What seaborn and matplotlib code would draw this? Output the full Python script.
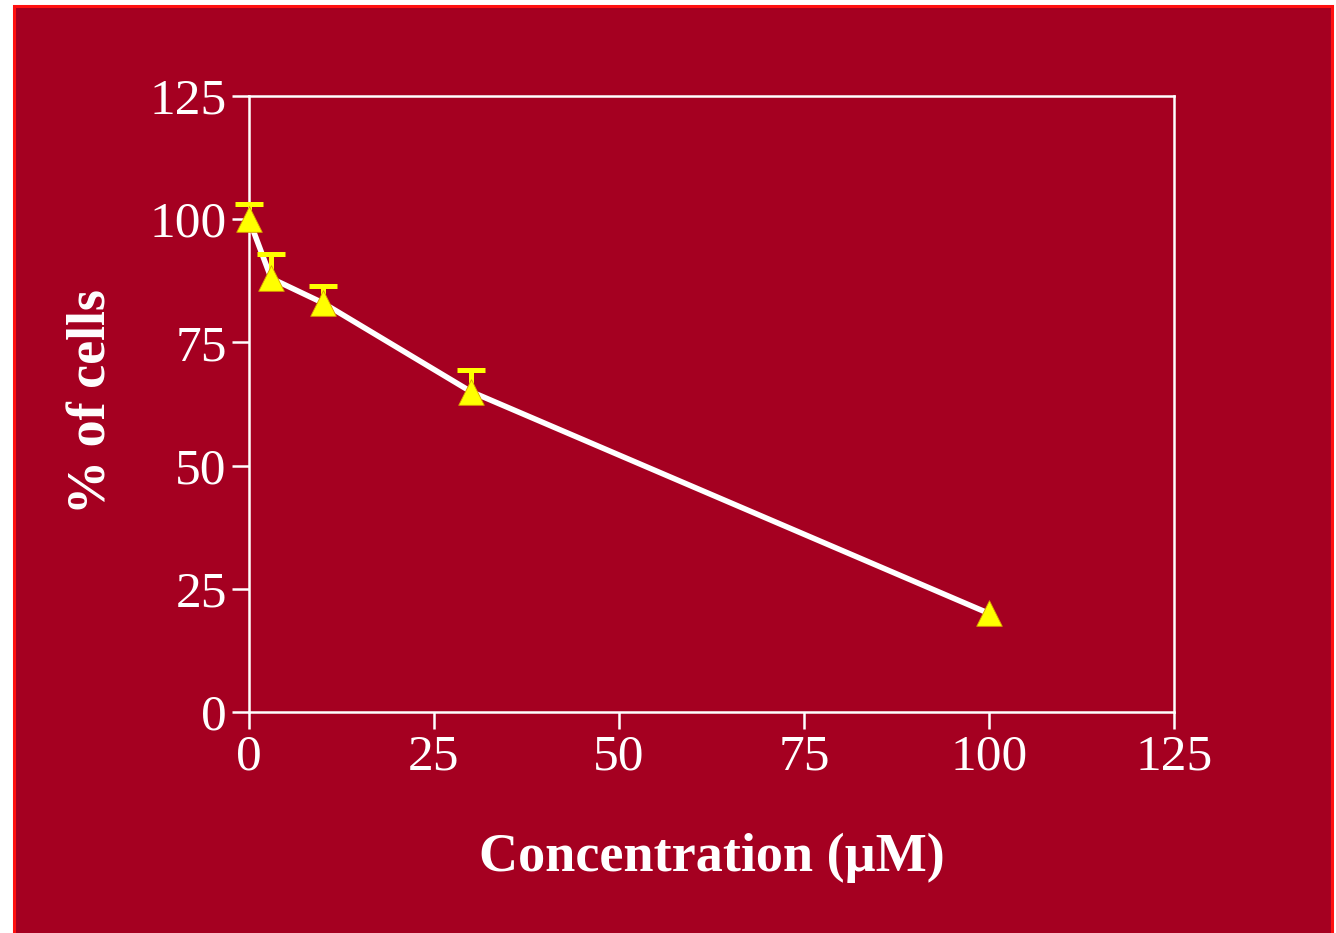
import matplotlib
matplotlib.use('Agg')
import matplotlib.pyplot as plt
import matplotlib.patches as patches
import seaborn as sns
import pandas as pd

# data
concentracao = [0, 3, 10, 30, 100]
celulas = [100, 88, 83, 65, 20]
erro_sup = [3, 5, 3.5, 4.5, 0]

df = pd.DataFrame({'conc': concentracao, 'cells': celulas, 'err': erro_sup})
df['topo'] = df['cells'] + df['err']
com_erro = df[df['err'] > 0]

sns.set_style('ticks')
plt.rcParams['font.family'] = ['Liberation Serif', 'DejaVu Serif']

fundo = '#A50021'
amarelo = '#FFFF00'
fig = plt.figure(figsize=(13.36, 9.33), dpi=100, facecolor='white')
# red framed background panel
fig.patches.append(patches.Rectangle((14 / 1336, -0.01), 1318 / 1336, 927 / 933 + 0.01,
                                     transform=fig.transFigure, facecolor=fundo,
                                     edgecolor='#FF1010', linewidth=2.2, zorder=-5))

ax = fig.add_axes([249 / 1336, 1 - 712 / 933, 925 / 1336, 616 / 933])
ax.set_facecolor(fundo)

sns.lineplot(data=df, x='conc', y='cells', color='white', linewidth=4, ax=ax, zorder=2)
# upper-only error bars: stem + single cap
ax.vlines(com_erro['conc'], com_erro['cells'], com_erro['topo'], color=amarelo,
          linewidth=3.6, zorder=3)
ax.plot(com_erro['conc'], com_erro['topo'], ls='none', marker='_', ms=20, mew=3.6,
        color=amarelo, zorder=3, clip_on=False, solid_capstyle='round')
sns.scatterplot(data=df, x='conc', y='cells', marker='^', s=340, color=amarelo,
                edgecolor='#D8A000', linewidth=0.6, ax=ax, zorder=4, clip_on=False)

ax.set_xlim(0, 125)
ax.set_ylim(0, 125)
ax.set_xticks([0, 25, 50, 75, 100, 125])
ax.set_yticks([0, 25, 50, 75, 100, 125])
for s in ax.spines.values():
    s.set_visible(True)
    s.set_color('white')
    s.set_linewidth(1.8)
ax.tick_params(colors='white', labelsize=37, length=12, width=1.8, direction='out', pad=4)
for lab in ax.get_xticklabels() + ax.get_yticklabels():
    lab.set_color('white')

ax.set_xlabel('')
ax.set_ylabel('')
fig.text(712 / 1336, 1 - 858 / 933, 'Concentration (\u00b5M)', color='white', fontsize=39,
         fontweight='bold', ha='center', va='center')
fig.text(93 / 1336, 1 - 402 / 933, '% of cells', color='white', fontsize=39,
         fontweight='bold', ha='center', va='center', rotation=90)

fig.savefig('out.png', dpi=100, facecolor='white')
